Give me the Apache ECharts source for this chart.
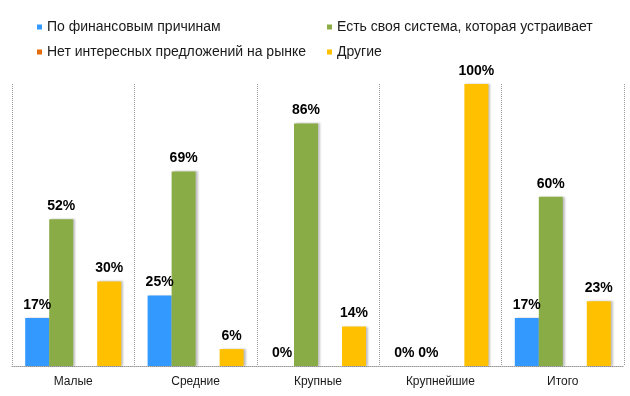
<!DOCTYPE html>
<html>
<head>
<meta charset="utf-8">
<script src="https://cdn.jsdelivr.net/npm/echarts@6/dist/echarts.min.js"></script>
<style>
    html, body { margin: 0; padding: 0; background: #fff; }
    #chart { width: 630px; height: 396px; }
</style>
</head>
<body>
<div id="chart"></div>
<script>
// категории и значения (%)
var categories = ['Малые', 'Средние', 'Крупные', 'Крупнейшие', 'Итого'];
var seriesNames = ['По финансовым причинам', 'Есть своя система, которая устраивает',
    'Нет интересных предложений на рынке', 'Другие'];
var finance = [17, 25, 0, 0, 17];
var ownSystem = [52, 69, 86, 0, 60];
var noOffers = [null, null, null, null, null];
var other = [30, 6, 14, 100, 23];
var colors = ['#3399ff', '#8aac46', '#e46c0a', '#ffc000'];

var chart = echarts.init(document.getElementById('chart'));

function makeSeries(name, data, color) {
    return {
        name: name,
        type: 'bar',
        data: data,
        barWidth: 24,
        barGap: '0%',
        itemStyle: {
            color: color,
            shadowColor: 'rgba(0,0,0,0.25)',
            shadowBlur: 2,
            shadowOffsetX: 2,
            shadowOffsetY: 0
        },
        label: {
            show: true,
            position: 'top',
            distance: 6,
            formatter: '{c}%',
            color: '#000',
            fontFamily: 'Liberation Sans',
            fontWeight: 'bold',
            fontSize: 14
        }
    };
}

var legendText = { color: '#1a1a1a', fontFamily: 'Liberation Sans', fontSize: 14, lineHeight: 16 };

var option = {
    backgroundColor: '#fff',
    animation: false,
    color: colors,
    legend: [{
        orient: 'vertical',
        left: 37, top: 19, padding: 0,
        itemWidth: 5, itemHeight: 5, itemGap: 9,
        icon: 'rect',
        textStyle: legendText,
        data: [seriesNames[0], seriesNames[2]]
    }, {
        orient: 'vertical',
        left: 327, top: 19, padding: 0,
        itemWidth: 5, itemHeight: 5, itemGap: 9,
        icon: 'rect',
        textStyle: legendText,
        data: [seriesNames[1], seriesNames[3]]
    }],
    grid: { left: 12, right: 6, top: 84, bottom: 30 },
    xAxis: {
        type: 'category',
        data: categories,
        axisTick: { show: false },
        axisLine: { lineStyle: { color: '#999', type: 'dotted', width: 1 } },
        axisLabel: { color: '#1a1a1a', fontFamily: 'Liberation Sans', fontSize: 12, margin: 10 },
        splitLine: { show: true, lineStyle: { color: '#999', type: 'dotted', width: 1 } }
    },
    yAxis: {
        type: 'value',
        min: 0, max: 100,
        show: false,
        splitLine: { show: false }
    },
    series: [
        makeSeries(seriesNames[0], finance, colors[0]),
        makeSeries(seriesNames[1], ownSystem, colors[1]),
        makeSeries(seriesNames[2], noOffers, colors[2]),
        makeSeries(seriesNames[3], other, colors[3])
    ]
};
chart.setOption(option);
</script>
</body>
</html>
